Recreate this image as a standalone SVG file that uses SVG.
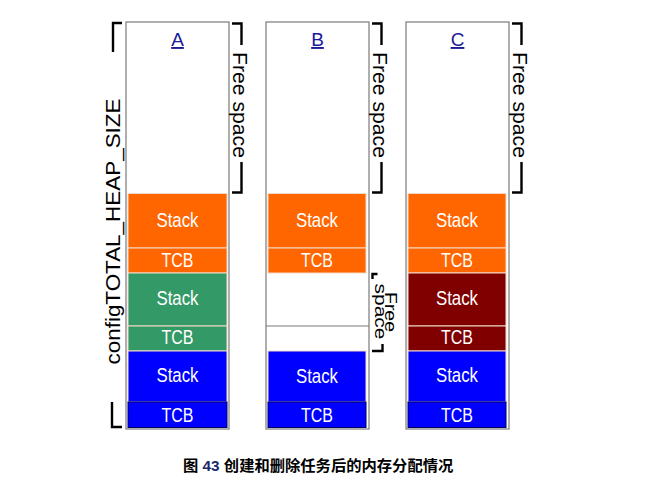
<svg xmlns="http://www.w3.org/2000/svg" width="658" height="490" viewBox="0 0 658 490">
<style>
.col{fill:#fff;stroke:#7a7a7a;stroke-width:1.2}
.blk{stroke:#f4d9c8;stroke-width:1}
.or{fill:#ff6600}.gr{fill:#339966}.bl{fill:#0000ff}.dr{fill:#800000}
.lbl{font-family:"Liberation Sans",Arial,sans-serif;font-size:20.5px;fill:#fff;text-anchor:middle}
.hd{font-family:"Liberation Sans",Arial,sans-serif;font-size:19px;fill:#1a1a99;text-anchor:middle;text-decoration:underline}
.br{fill:none;stroke:#000;stroke-width:2.4}
.side{font-family:"Liberation Sans",Arial,sans-serif;font-size:21px;fill:#000;text-anchor:middle}
.cap{font-family:"Liberation Sans","Noto Sans CJK SC",sans-serif;font-size:15.3px;font-weight:bold;fill:#000}
</style>
<rect width="658" height="490" fill="#fff"/>

<g id="colA">
<rect class="col" x="126" y="22" width="103" height="407"/>
<text class="hd" x="177.5" y="46">A</text>
<rect class="blk or" x="128" y="193.5" width="99" height="54.5"/>
<rect class="blk or" x="128" y="248" width="99" height="25"/>
<rect class="blk gr" x="128" y="273" width="99" height="53"/>
<rect class="blk gr" x="128" y="326" width="99" height="25"/>
<rect class="blk bl" x="128" y="351" width="99" height="51"/>
<rect class="bl" x="128" y="402" width="99" height="25.5" stroke="#000066" stroke-width="1"/>
<text class="lbl" x="177.5" y="227" textLength="42" lengthAdjust="spacingAndGlyphs">Stack</text>
<text class="lbl" x="177.5" y="267" textLength="32" lengthAdjust="spacingAndGlyphs">TCB</text>
<text class="lbl" x="177.5" y="305" textLength="42" lengthAdjust="spacingAndGlyphs">Stack</text>
<text class="lbl" x="177.5" y="344" textLength="32" lengthAdjust="spacingAndGlyphs">TCB</text>
<text class="lbl" x="177.5" y="382" textLength="42" lengthAdjust="spacingAndGlyphs">Stack</text>
<text class="lbl" x="177.5" y="422" textLength="32" lengthAdjust="spacingAndGlyphs">TCB</text>
</g>

<g id="colB">
<rect class="col" x="266" y="22" width="103" height="407"/>
<text class="hd" x="317.5" y="46">B</text>
<rect class="blk or" x="268" y="193.5" width="98" height="54.5"/>
<rect class="blk or" x="268" y="248" width="98" height="25"/>
<line x1="266" y1="326" x2="369" y2="326" stroke="#7a7a7a" stroke-width="1.2"/>
<rect class="blk bl" x="268" y="351" width="98" height="51"/>
<rect class="bl" x="268" y="402" width="98" height="25.5" stroke="#000066" stroke-width="1"/>
<text class="lbl" x="317" y="227" textLength="42" lengthAdjust="spacingAndGlyphs">Stack</text>
<text class="lbl" x="317" y="267" textLength="32" lengthAdjust="spacingAndGlyphs">TCB</text>
<text class="lbl" x="317" y="383" textLength="42" lengthAdjust="spacingAndGlyphs">Stack</text>
<text class="lbl" x="317" y="422" textLength="32" lengthAdjust="spacingAndGlyphs">TCB</text>
</g>

<g id="colC">
<rect class="col" x="406" y="22" width="103" height="407"/>
<text class="hd" x="457.5" y="46">C</text>
<rect class="blk or" x="408" y="193.5" width="98" height="54.5"/>
<rect class="blk or" x="408" y="248" width="98" height="25"/>
<rect class="blk dr" x="408" y="273" width="98" height="53"/>
<rect class="blk dr" x="408" y="326" width="98" height="25"/>
<rect class="blk bl" x="408" y="351" width="98" height="51"/>
<rect class="bl" x="408" y="402" width="98" height="25.5" stroke="#000066" stroke-width="1"/>
<text class="lbl" x="457" y="227" textLength="42" lengthAdjust="spacingAndGlyphs">Stack</text>
<text class="lbl" x="457" y="267" textLength="32" lengthAdjust="spacingAndGlyphs">TCB</text>
<text class="lbl" x="457" y="305" textLength="42" lengthAdjust="spacingAndGlyphs">Stack</text>
<text class="lbl" x="457" y="344" textLength="32" lengthAdjust="spacingAndGlyphs">TCB</text>
<text class="lbl" x="457" y="382" textLength="42" lengthAdjust="spacingAndGlyphs">Stack</text>
<text class="lbl" x="457" y="422" textLength="32" lengthAdjust="spacingAndGlyphs">TCB</text>
</g>

<g id="heapSize">
<path class="br" d="M122,23 H113 V52"/>
<path class="br" d="M112,402 V427 H122"/>
<text class="side" transform="translate(120,231.5) rotate(-90)" textLength="266" lengthAdjust="spacingAndGlyphs">configTOTAL_HEAP_SIZE</text>
</g>

<g id="freeA">
<path class="br" d="M232,23.5 H241.5 V45"/>
<path class="br" d="M241.5,162 V192.5 H232"/>
<text class="side" transform="translate(233,105) rotate(90)" textLength="106" lengthAdjust="spacingAndGlyphs">Free space</text>
</g>

<g id="freeB">
<path class="br" d="M372,23.5 H381.5 V45"/>
<path class="br" d="M381.5,162 V192.5 H372"/>
<text class="side" transform="translate(373,105) rotate(90)" textLength="106" lengthAdjust="spacingAndGlyphs">Free space</text>
</g>

<g id="freeB2">
<path class="br" d="M377.5,274 H372.5 V279" stroke-width="2"/>
<path class="br" d="M372,351 H382.5 V344" stroke-width="2"/>
<text class="side" style="font-size:16px" transform="translate(385,312) rotate(90)" textLength="40" lengthAdjust="spacingAndGlyphs">Free</text>
<text class="side" style="font-size:16px" transform="translate(374.5,311.5) rotate(90)" textLength="56" lengthAdjust="spacingAndGlyphs">space</text>
</g>

<g id="freeC">
<path class="br" d="M512,23.5 H521.5 V45"/>
<path class="br" d="M521.5,162 V192.5 H512"/>
<text class="side" transform="translate(513,105) rotate(90)" textLength="106" lengthAdjust="spacingAndGlyphs">Free space</text>
</g>

<g id="caption">
<text class="cap" x="183" y="471">图 <tspan fill="#1a2a6c">43</tspan> 创建和删除任务后的内存分配情况</text>
</g>
</svg>
